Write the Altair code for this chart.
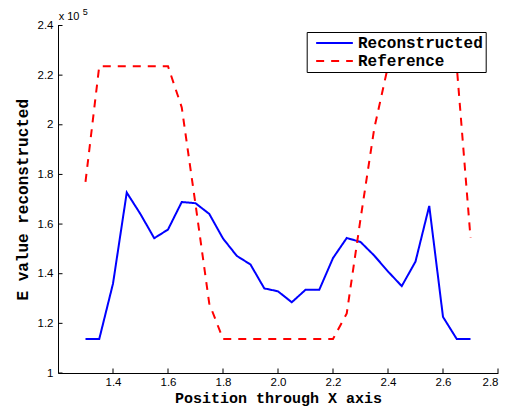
import altair as alt
import pandas as pd

positions = [1.30, 1.35, 1.40, 1.45, 1.50, 1.55, 1.60, 1.65, 1.70, 1.75,
             1.80, 1.85, 1.90, 1.95, 2.00, 2.05, 2.10, 2.15, 2.20, 2.25,
             2.30, 2.35, 2.40, 2.45, 2.50, 2.55, 2.60, 2.65, 2.70]
reconstructed = [113700, 113700, 136000, 172700, 164000, 154300, 157800, 168900, 168400, 164100,
                 154200, 147200, 143700, 134100, 132900, 128500, 133500, 133500, 146300, 154400,
                 152800, 147300, 140900, 135000, 144900, 167300, 122600, 113700, 113700]
reference = [177000, 223600, 223600, 223600, 223600, 223600, 223600, 207000, 168000, 128000,
             113700, 113700, 113700, 113700, 113700, 113700, 113700, 113700, 113700, 124000,
             162000, 198500, 223600, 223600, 223600, 223600, 223600, 223600, 154500]
series_names = ["Reconstructed", "Reference"]
x_ticks = [1.4, 1.6, 1.8, 2.0, 2.2, 2.4, 2.6, 2.8]
y_ticks = [100000, 120000, 140000, 160000, 180000, 200000, 220000, 240000]

W, H = 440, 347.5

rows = []
for p, r in zip(positions, reconstructed):
    rows.append({"pos": p, "val": r, "series": series_names[0]})
for p, r in zip(positions, reference):
    rows.append({"pos": p, "val": r, "series": series_names[1]})
df = pd.DataFrame(rows)

xscale = alt.Scale(domain=[1.2, 2.8], nice=False, zero=False)
yscale = alt.Scale(domain=[100000, 240000], nice=False, zero=False)

lines = alt.Chart(df).mark_line(strokeWidth=2).encode(
    x=alt.X("pos:Q", scale=xscale,
            axis=alt.Axis(values=x_ticks, title="Position through X axis", grid=False,
                          ticks=False, labelPadding=3, labelFontSize=11.5,
                          labelFont="Liberation Sans", titleFont="Liberation Mono",
                          titleFontWeight="bold", titleFontSize=15,
                          titleBaseline="alphabetic", titleY=29.5,
                          domainColor="black", labelColor="black", titleColor="black")),
    y=alt.Y("val:Q", scale=yscale,
            axis=alt.Axis(values=y_ticks, title="E value reconstructed", grid=False,
                          ticks=False, labelPadding=5, labelFontSize=11.5,
                          labelFont="Liberation Sans", titleFont="Liberation Mono",
                          titleFontWeight="bold", titleFontSize=16,
                          labelExpr="format(datum.value/100000, '.1~f')",
                          titleBaseline="middle", titleX=-36, titleY=H / 2,
                          domainColor="black", labelColor="black", titleColor="black")),
    color=alt.Color("series:N", scale=alt.Scale(domain=series_names, range=["#0000ff", "#ff0000"]),
                    legend=alt.Legend(title=None, orient="none", legendX=248.7, legendY=6.5,
                                      fillColor="white", strokeColor="black", padding=2,
                                      symbolType="stroke", symbolSize=1347, symbolStrokeWidth=2,
                                      labelFont="Liberation Mono", labelFontWeight="bold",
                                      labelFontSize=16, labelColor="black", clipHeight=18,
                                      rowPadding=0, symbolOffset=6.3, labelOffset=4,
                                      labelExpr="datum.label + ' '")),
    strokeDash=alt.StrokeDash("series:N", scale=alt.Scale(domain=series_names, range=[[1, 0], [8, 7]]),
                              legend=None),
    order="pos:Q",
)

xt = alt.Chart(pd.DataFrame({"t": x_ticks})).mark_rule(color="black", strokeWidth=1).encode(
    x=alt.X("t:Q", scale=xscale), y=alt.value(H), y2=alt.value(H - 4.5))
yt = alt.Chart(pd.DataFrame({"t": y_ticks})).mark_rule(color="black", strokeWidth=1).encode(
    y=alt.Y("t:Q", scale=yscale), x=alt.value(0), x2=alt.value(4.5))

exp_base = alt.Chart(pd.DataFrame({"t": ["x 10"]})).mark_text(
    align="left", baseline="alphabetic", font="Liberation Sans", fontSize=11, color="black"
).encode(text="t:N", x=alt.value(0.7), y=alt.value(-5.5))
exp_sup = alt.Chart(pd.DataFrame({"t": ["5"]})).mark_text(
    align="left", baseline="alphabetic", font="Liberation Sans", fontSize=9, color="black"
).encode(text="t:N", x=alt.value(24.7), y=alt.value(-10.5))

chart = alt.layer(lines, xt, yt, exp_base, exp_sup).properties(
    width=W, height=H,
    autosize=alt.AutoSizeParams(type="none"),
    padding={"left": 50, "top": 17.5, "right": 10, "bottom": 34},
).configure_view(stroke=None).configure_axis(domainWidth=1)

chart.save("out.html", embed_options={"renderer": "svg", "actions": False})
